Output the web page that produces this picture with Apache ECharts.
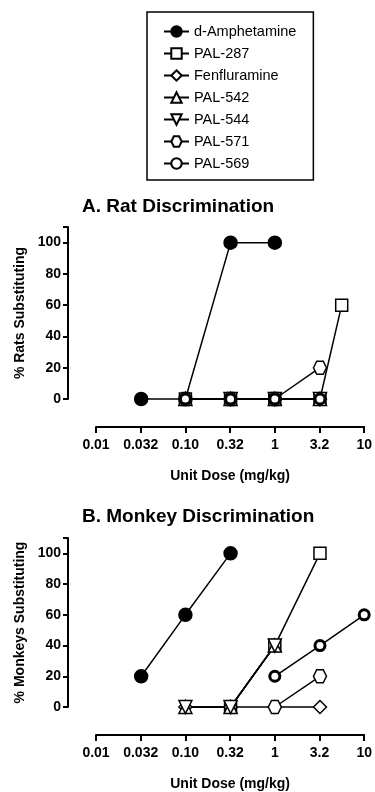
<!DOCTYPE html>
<html>
<head>
<meta charset="utf-8">
<script src="https://cdn.jsdelivr.net/npm/echarts@6/dist/echarts.min.js"></script>
<style>
  html, body { margin: 0; padding: 0; background: #fff; }
  #main { width: 375px; height: 792px; }
</style>
</head>
<body>
<div id="main"></div>
<script>
// doses in mg/kg, values = % substituting
var seriesNames = ['d-Amphetamine', 'PAL-287', 'Fenfluramine', 'PAL-542', 'PAL-544', 'PAL-571', 'PAL-569'];
var doseTicks = ['0.01', '0.032', '0.10', '0.32', '1', '3.2', '10'];

// A. rat
var ratAmphetamine = [[0.032, 0], [0.10, 0], [0.32, 100], [1, 100]];
var ratPal287 = [[0.10, 0], [0.32, 0], [1, 0], [3.2, 0], [5.6, 60]];
var ratFenfluramine = [[0.10, 0], [0.32, 0], [1, 0], [3.2, 0]];
var ratPal542 = [[0.10, 0], [0.32, 0], [1, 0], [3.2, 0]];
var ratPal544 = [[0.32, 0], [1, 0], [3.2, 0]];
var ratPal571 = [[0.10, 0], [0.32, 0], [1, 0], [3.2, 20]];
var ratPal569 = [[0.10, 0], [0.32, 0], [1, 0], [3.2, 0]];

// B. monkey
var monkeyAmphetamine = [[0.032, 20], [0.10, 60], [0.32, 100]];
var monkeyPal287 = [[0.32, 0], [1, 40], [3.2, 100]];
var monkeyFenfluramine = [[0.10, 0], [0.32, 0], [1, 0], [3.2, 0]];
var monkeyPal542 = [[0.10, 0], [0.32, 0], [1, 40]];
var monkeyPal544 = [[0.10, 0], [0.32, 0], [1, 40]];
var monkeyPal571 = [[1, 0], [3.2, 20]];
var monkeyPal569 = [[1, 20], [3.2, 40], [10, 60]];

var ratData = [ratAmphetamine, ratPal287, ratFenfluramine, ratPal542, ratPal544, ratPal571, ratPal569];
var monkeyData = [monkeyAmphetamine, monkeyPal287, monkeyFenfluramine, monkeyPal542, monkeyPal544, monkeyPal571, monkeyPal569];

var hexagon = 'path://M-1,0 L-0.5,-0.866 L0.5,-0.866 L1,0 L0.5,0.866 L-0.5,0.866 Z';
// marker look per compound
var markers = [
    { symbol: 'circle', size: 13, fill: '#000', border: 1.5, rotate: 0 },
    { symbol: 'rect', size: 12, fill: '#fff', border: 1.5, rotate: 0 },
    { symbol: 'diamond', size: 13, fill: '#fff', border: 1.5, rotate: 0 },
    { symbol: 'triangle', size: 13, fill: '#fff', border: 1.5, rotate: 0 },
    { symbol: 'triangle', size: 13, fill: '#fff', border: 1.5, rotate: 180 },
    { symbol: hexagon, size: 13, fill: '#fff', border: 1.5, rotate: 0 },
    { symbol: 'circle', size: 10, fill: '#fff', border: 3, rotate: 0 }
];

var font = 'Liberation Sans, Arial, sans-serif';

function toLog(pts) {
    return pts.map(function (p) { return [Math.log10(p[0]), p[1]]; });
}

function makeSeries(dataList, idx) {
    return dataList.map(function (pts, i) {
        var m = markers[i];
        return {
            name: seriesNames[i],
            type: 'line',
            xAxisIndex: idx,
            yAxisIndex: idx,
            data: toLog(pts),
            symbol: m.symbol,
            symbolSize: m.size,
            symbolRotate: m.rotate,
            showAllSymbol: true,
            clip: false,
            lineStyle: { color: '#000', width: 1.5 },
            itemStyle: { color: m.fill, borderColor: '#000', borderWidth: m.border },
            emphasis: { disabled: true },
            animation: false
        };
    });
}

function xAxisCfg(idx) {
    return {
        type: 'value',
        gridIndex: idx,
        position: 'bottom',
        min: -2,
        max: 1,
        interval: 0.5,
        offset: 28,
        name: 'Unit Dose (mg/kg)',
        nameLocation: 'middle',
        nameGap: 42,
        nameTextStyle: { color: '#000', fontSize: 14, fontWeight: 'bold', fontFamily: font },
        axisLine: { show: true, onZero: false, lineStyle: { color: '#000', width: 2 } },
        axisTick: { show: true, length: 6, lineStyle: { color: '#000', width: 2 } },
        axisLabel: {
            color: '#000', fontSize: 14, fontWeight: 'bold', fontFamily: font, margin: 11,
            formatter: function (v) {
                return doseTicks[Math.round((v + 2) / 0.5)];
            }
        },
        splitLine: { show: false }
    };
}

function yAxisCfg(idx, label) {
    return {
        type: 'value',
        gridIndex: idx,
        position: 'left',
        min: 0,
        max: 110,
        interval: 20,
        offset: 28,
        name: label,
        nameLocation: 'middle',
        nameGap: 41,
        nameTextStyle: { color: '#000', fontSize: 14, fontWeight: 'bold', fontFamily: font },
        axisLine: { show: true, onZero: false, lineStyle: { color: '#000', width: 2 } },
        axisTick: { show: true, length: 5, lineStyle: { color: '#000', width: 2 } },
        axisLabel: {
            color: '#000', fontSize: 14, fontWeight: 'bold', fontFamily: font, margin: 7,
            formatter: function (v) { return v > 100 ? '' : v; }
        },
        splitLine: { show: false }
    };
}

var dom = document.getElementById('main');
var myChart = echarts.init(dom, null, { renderer: 'canvas' });
myChart.setOption({
    backgroundColor: '#fff',
    animation: false,
    title: [
        {
            text: 'A. Rat Discrimination',
            left: 82,
            top: 197,
            padding: 0,
            textStyle: { color: '#000', fontSize: 19, fontWeight: 'bold', fontFamily: font }
        },
        {
            text: 'B. Monkey Discrimination',
            left: 82,
            top: 507,
            padding: 0,
            textStyle: { color: '#000', fontSize: 19, fontWeight: 'bold', fontFamily: font }
        }
    ],
    legend: {
        data: seriesNames,
        orient: 'vertical',
        left: 147,
        top: 12,
        padding: [12, 17, 9, 16],
        itemGap: 7,
        itemWidth: 25,
        itemHeight: 13,
        borderColor: '#000',
        borderWidth: 1.5,
        selectedMode: false,
        textStyle: { color: '#000', fontSize: 14.5, fontFamily: font }
    },
    grid: [
        { left: 96, right: 8, top: 227, bottom: 393 },
        { left: 96, right: 8, top: 538, bottom: 82 }
    ],
    xAxis: [xAxisCfg(0), xAxisCfg(1)],
    yAxis: [yAxisCfg(0, '% Rats Substituting'), yAxisCfg(1, '% Monkeys Substituting')],
    series: makeSeries(ratData, 0).concat(makeSeries(monkeyData, 1))
});
window.addEventListener('resize', function () {
    myChart.resize();
});
</script>
</body>
</html>
